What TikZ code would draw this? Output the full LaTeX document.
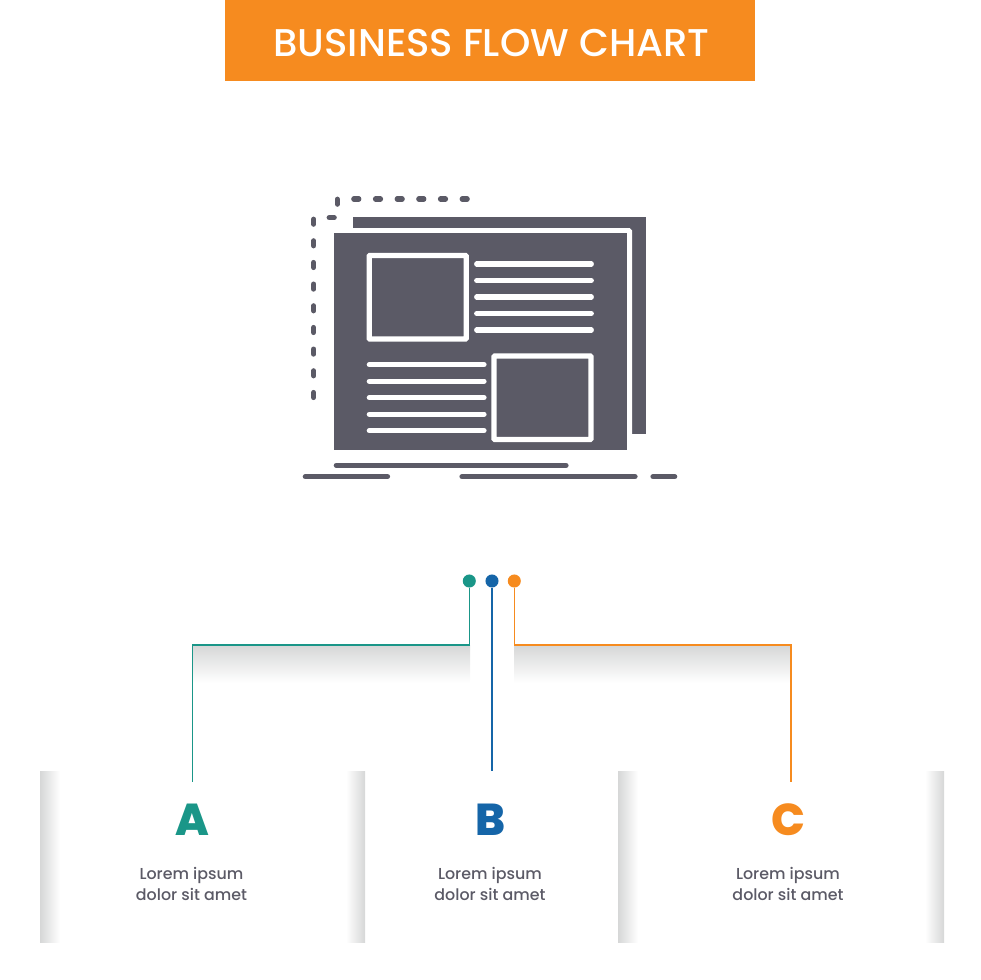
\documentclass[tikz,border=0pt]{standalone}
\usepackage{fontspec}
\usepackage{tikz}
\setmainfont{Poppins Medium}
\newfontfamily\lettersfont{Poppins ExtraBold}
\pgfdeclarelayer{background}
\pgfdeclarelayer{foreground}
\pgfsetlayers{background,main,foreground}
\definecolor{glyphgray}{HTML}{5B5A66}
\definecolor{tealmark}{HTML}{1A9688}
\definecolor{bluemark}{HTML}{1565A8}
\definecolor{orangemark}{HTML}{F68B1F}
\definecolor{shadegray}{HTML}{D6D7D7}
\tikzset{
  glyphline/.style={draw=glyphgray,line width=3.9pt,line cap=round},
  whiteline/.style={draw=white,line width=3.9pt,line cap=round},
  whitebox/.style={draw=white,line width=4pt,fill=glyphgray,rounded corners=0.6pt},
  dot/.style={circle,inner sep=0pt,minimum size=9.8pt},
  wire/.style={line width=1.15pt},
  letternode/.style={font=\lettersfont\fontsize{33.5}{33.5}\selectfont},
  textnode/.style={align=center,text=glyphgray,font=\fontsize{11.9}{15.2}\selectfont}
}
\begin{document}
\begin{tikzpicture}[x=0.75pt,y=-0.75pt]
\useasboundingbox (0,0) rectangle (980,980);
\begin{pgfonlayer}{background}
\shade[top color=shadegray,bottom color=white] (193,645) rectangle (470,683);
\shade[top color=shadegray,bottom color=white] (514,645) rectangle (791,683);
\shade[left color=shadegray,right color=white] (40,771) rectangle (60,942);
\shade[left color=white,right color=shadegray] (346,771) rectangle (365,942);
\shade[left color=shadegray,right color=white] (618,771) rectangle (638,942);
\shade[left color=white,right color=shadegray] (925,771) rectangle (944,942);
\end{pgfonlayer}
\fill[orangemark] (225,0) rectangle (755,81);
\node[text=white,font=\fontsize{29}{29}\selectfont] (title) at (491.5,43.5) {BUSINESS FLOW CHART};
\fill[glyphgray] (353,217.3) rectangle (645.7,434);
\draw[draw=white,line width=4pt,fill=glyphgray,rounded corners=0.6pt] (331.7,230.8) rectangle (629.5,452);
\fill[white] (325,225) rectangle (333.7,460);
\fill[white] (325,450) rectangle (640,460);
\fill[glyphgray] (333.7,233.3) rectangle (626.7,450);
\draw[whitebox] (369.2,255.5) rectangle (466.2,339);
\draw[whitebox] (494,356) rectangle (591,439.5);
\foreach \y in {264,280.5,297,313.5,330}
  \draw[whiteline] (476.7,\y) -- (591.3,\y);
\foreach \y in {364.7,381.2,397.7,414.2,430.7}
  \draw[whiteline] (369.3,\y) -- (484,\y);
\foreach \y in {221.7,243.3,265,286.6,308.3,330,351.6,373.3,395}
  \draw[glyphline] (313.7,\y-2.5) -- (313.7,\y+2.5);
\foreach \x in {356.3,378,399.7,421.3,443,464.7}
  \draw[glyphline] (\x-2.5,199) -- (\x+2.5,199);
\draw[glyphline] (337.3,199.2) -- (337.3,204.2);
\draw[glyphline] (329.2,217.7) -- (334.2,217.7);
\draw[glyphline] (336.3,465.3) -- (566,465.3);
\draw[glyphline] (305.3,476.7) -- (387.5,476.7);
\draw[glyphline] (462,476.7) -- (635,476.7);
\draw[glyphline] (653,476.7) -- (674.7,476.7);
\begin{pgfonlayer}{foreground}
\node[dot,fill=tealmark] (dotA) at (469.3,581) {};
\node[dot,fill=bluemark] (dotB) at (492,581) {};
\node[dot,fill=orangemark] (dotC) at (514.3,581) {};
\end{pgfonlayer}
\coordinate (cornerA) at (192.7,645);
\coordinate (endA) at (192.7,781.7);
\coordinate (endB) at (492,771.3);
\coordinate (cornerC) at (791,645);
\coordinate (endC) at (791,781.7);
\draw[wire,draw=tealmark] (dotA) |- (cornerA) -- (endA);
\draw[wire,draw=bluemark] (dotB) -- (endB);
\draw[wire,draw=orangemark] (dotC) |- (cornerC) -- (endC);
\node[letternode,text=tealmark] (letterA) at (192,820) {A};
\node[letternode,text=bluemark] (letterB) at (490.5,820) {B};
\node[letternode,text=orangemark] (letterC) at (788.5,820) {C};
\node[textnode] (textA) at (191.5,884) {Lorem ipsum\\dolor sit amet};
\node[textnode] (textB) at (490,884) {Lorem ipsum\\dolor sit amet};
\node[textnode] (textC) at (788,884) {Lorem ipsum\\dolor sit amet};
\end{tikzpicture}
\end{document}
